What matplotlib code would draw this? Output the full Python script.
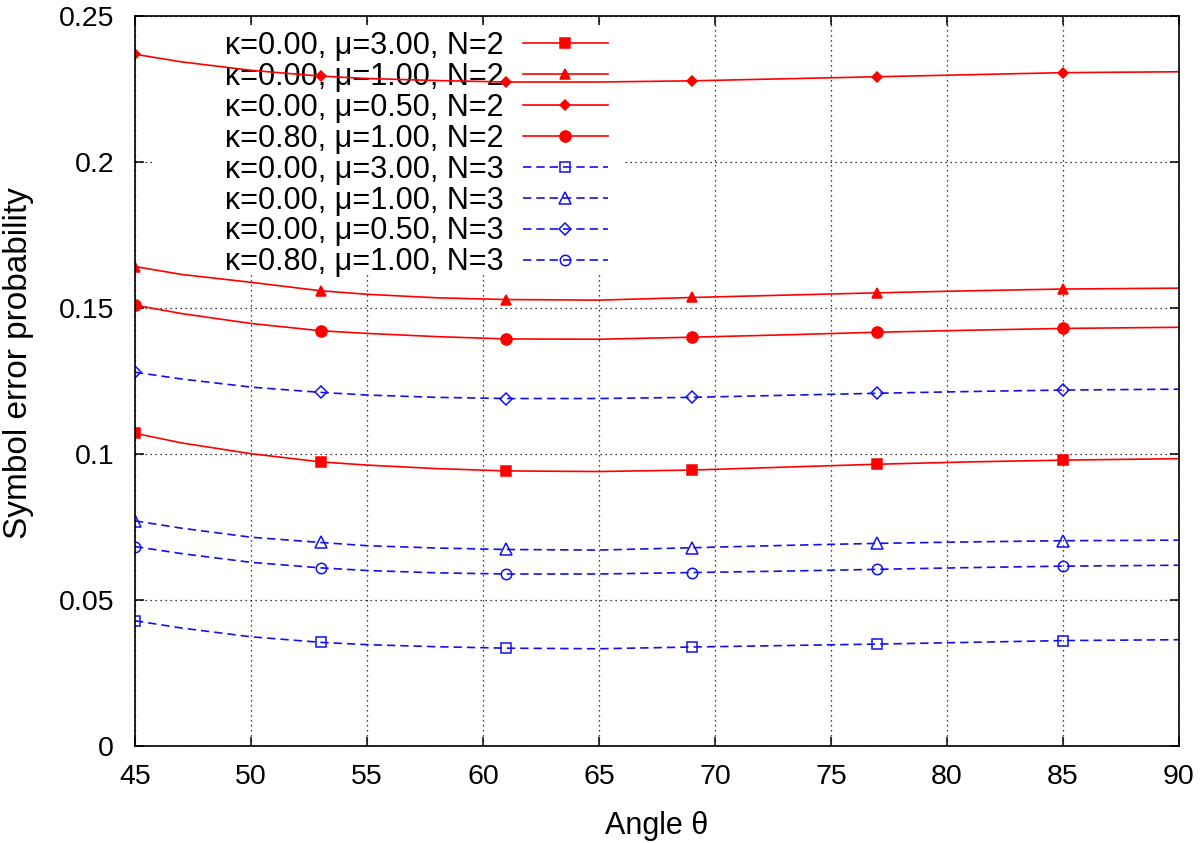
import matplotlib
matplotlib.use("Agg")
import matplotlib.pyplot as plt
from matplotlib.patches import Rectangle

plt.rcParams['font.family'] = ['Liberation Sans', 'DejaVu Sans']

# Curve sample angles (degrees)
angle = [45, 47, 50, 53, 55, 58, 61, 65, 69, 73, 77, 81, 85, 90]
# indices of the sampled angles that carry markers (45, 53, 61, 69, 77, 85)
marker_idx = [0, 3, 6, 8, 10, 12]

# N = 2 series
k0_mu3_N2 = [0.1071, 0.1038, 0.1001, 0.0973, 0.0962, 0.0950, 0.0942, 0.0940, 0.0945, 0.0955, 0.0965, 0.0973, 0.0979, 0.0984]
k0_mu1_N2 = [0.1642, 0.1615, 0.1588, 0.1559, 0.1547, 0.1535, 0.1529, 0.1527, 0.1536, 0.1544, 0.1552, 0.1559, 0.1565, 0.1568]
k0_mu05_N2 = [0.2369, 0.2343, 0.2314, 0.2294, 0.2286, 0.2279, 0.2274, 0.2274, 0.2278, 0.2285, 0.2292, 0.2299, 0.2306, 0.2309]
k08_mu1_N2 = [0.1510, 0.1481, 0.1447, 0.1422, 0.1413, 0.1402, 0.1394, 0.1393, 0.1400, 0.1408, 0.1417, 0.1424, 0.1430, 0.1434]
# N = 3 series
k0_mu3_N3 = [0.0429, 0.0404, 0.0374, 0.0355, 0.0347, 0.0340, 0.0335, 0.0333, 0.0339, 0.0344, 0.0349, 0.0355, 0.0361, 0.0364]
k0_mu1_N3 = [0.0771, 0.0746, 0.0715, 0.0697, 0.0686, 0.0678, 0.0673, 0.0671, 0.0679, 0.0687, 0.0694, 0.0699, 0.0703, 0.0705]
k0_mu05_N3 = [0.1280, 0.1257, 0.1229, 0.1211, 0.1202, 0.1194, 0.1190, 0.1190, 0.1194, 0.1201, 0.1208, 0.1214, 0.1219, 0.1222]
k08_mu1_N3 = [0.0683, 0.0659, 0.0629, 0.0610, 0.0601, 0.0593, 0.0589, 0.0589, 0.0594, 0.0599, 0.0605, 0.0611, 0.0616, 0.0619]

labels = [
    "κ=0.00, μ=3.00, N=2",
    "κ=0.00, μ=1.00, N=2",
    "κ=0.00, μ=0.50, N=2",
    "κ=0.80, μ=1.00, N=2",
    "κ=0.00, μ=3.00, N=3",
    "κ=0.00, μ=1.00, N=3",
    "κ=0.00, μ=0.50, N=3",
    "κ=0.80, μ=1.00, N=3",
]
xticks = [45, 50, 55, 60, 65, 70, 75, 80, 85, 90]
yticks = [0, 0.05, 0.1, 0.15, 0.2, 0.25]
ytick_labels = ["0", "0.05", "0.1", "0.15", "0.2", "0.25"]

series = [k0_mu3_N2, k0_mu1_N2, k0_mu05_N2, k08_mu1_N2,
          k0_mu3_N3, k0_mu1_N3, k0_mu05_N3, k08_mu1_N3]

RED = "#ff0000"
BLUE = "#1010f0"
styles = [
    dict(color=RED, marker='s', ms=7.5, mfc=RED, ls='-'),
    dict(color=RED, marker='^', ms=7.5, mfc=RED, ls='-'),
    dict(color=RED, marker='D', ms=5.5, mfc=RED, ls='-'),
    dict(color=RED, marker='o', ms=8.0, mfc=RED, ls='-'),
    dict(color=BLUE, marker='s', ms=7.5, mfc='none', ls=(0, (5, 3))),
    dict(color=BLUE, marker='^', ms=8.0, mfc='none', ls=(0, (5, 3))),
    dict(color=BLUE, marker='D', ms=6.0, mfc='none', ls=(0, (5, 3))),
    dict(color=BLUE, marker='o', ms=7.5, mfc='none', ls=(0, (5, 3))),
]

W, H = 1200, 843
fig = plt.figure(figsize=(W / 100, H / 100), dpi=100)
L, R, T, B = 135, 1179, 16, 746
ax = fig.add_axes([L / W, (H - B) / H, (R - L) / W, (B - T) / H])

for y, lab, st in zip(series, labels, styles):
    ax.plot(angle, y, label=lab, color=st['color'], ls=st['ls'], lw=1.2,
            marker=st['marker'], ms=st['ms'], mfc=st['mfc'], mec=st['color'],
            mew=1.1, markevery=marker_idx, zorder=2)

ax.set_xlim(45, 90)
ax.set_ylim(0, 0.25)
ax.set_xticks(xticks)
ax.set_xticklabels([str(v) for v in xticks])
ax.set_yticks(yticks)
ax.set_yticklabels(ytick_labels)
ax.tick_params(direction='in', length=6.5, width=1.1, top=True, right=True,
               labelsize=20.5, colors='black')
ax.tick_params(axis='y', pad=15)
ax.tick_params(axis='x', pad=13)
ax.set_axisbelow(True)
ax.grid(True, color='black', linestyle=(0, (1, 3)), linewidth=0.9)
for s in ax.spines.values():
    s.set_linewidth(1.2)

ax.set_xlabel("Angle θ", fontsize=22, labelpad=15)
ax.set_ylabel("Symbol error probability", fontsize=24)
ax.yaxis.set_label_coords((34 - L) / (R - L), (B - 363) / (B - T))

# white key background hiding the grid behind the legend
x0 = (152 - L) / (R - L)
x1 = (625 - L) / (R - L)
y0 = (B - 273) / (B - T)
y1 = (B - 25) / (B - T)
ax.add_patch(Rectangle((x0, y0), x1 - x0, y1 - y0, transform=ax.transAxes,
                       facecolor='white', edgecolor='none', zorder=1))

leg = ax.legend(loc='upper left', bbox_to_anchor=(225 / W, (H - 31) / H),
                bbox_transform=fig.transFigure, frameon=False,
                markerfirst=False, fontsize=22, handlelength=2.78,
                handletextpad=0.62, labelspacing=0.03, borderpad=0,
                borderaxespad=0)
leg.set_zorder(1.5)

fig.savefig("out.png", dpi=100)
